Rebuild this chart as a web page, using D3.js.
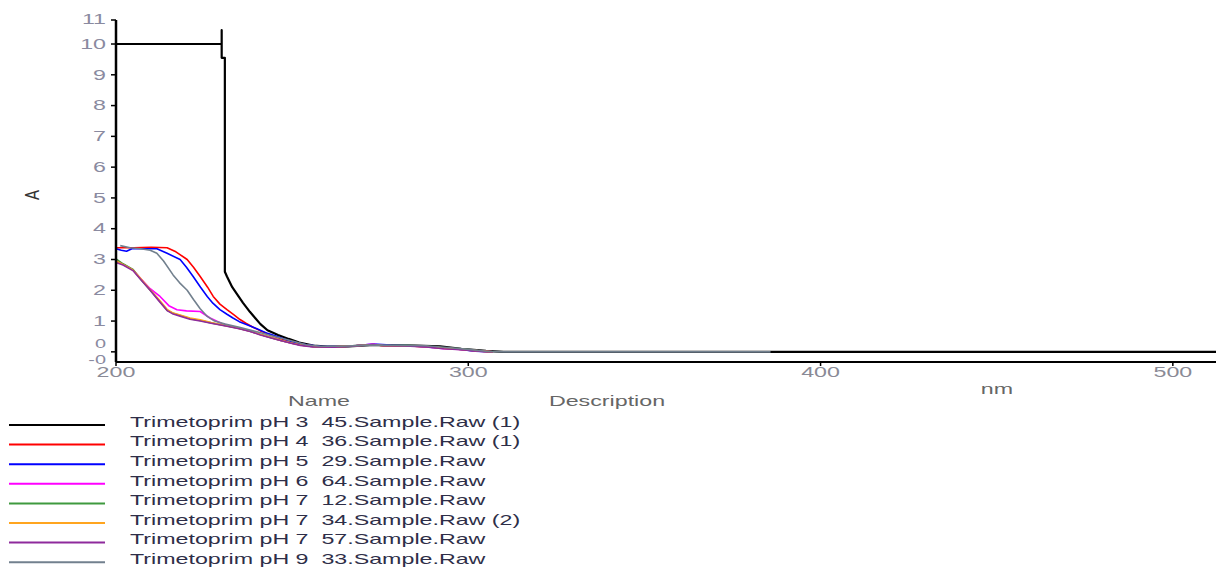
<!DOCTYPE html>
<html><head><meta charset="utf-8">
<script src="https://cdn.jsdelivr.net/npm/d3@7"></script>
<style>body{margin:0;background:#fff}svg{display:block;font-family:"Liberation Sans",Arial,sans-serif}text{white-space:pre}</style>
</head><body><svg id="c" width="1216" height="568"></svg>
<script>
// ---- data (wavelength nm, absorbance A) ----
const seriesNames = [
  "Trimetoprim pH 3  45.Sample.Raw (1)",
  "Trimetoprim pH 4  36.Sample.Raw (1)",
  "Trimetoprim pH 5  29.Sample.Raw",
  "Trimetoprim pH 6  64.Sample.Raw",
  "Trimetoprim pH 7  12.Sample.Raw",
  "Trimetoprim pH 7  34.Sample.Raw (2)",
  "Trimetoprim pH 7  57.Sample.Raw",
  "Trimetoprim pH 9  33.Sample.Raw"
];
const seriesColors = ["#000000","#ff0000","#0000ff","#ff00ff","#3f9a3f","#ffa51f","#8e2a9c","#72808e"];
const xTicks = [200,300,400,500];
const yTicks = [1,2,3,4,5,6,7,8,9,10];

const pH3 = [[200,10],[230.0,10],[230.0,10.45],[230.0,9.55],[230.9,9.55],[230.9,2.6],[231.5,2.45],[233,2.1],[234.5,1.85],[236,1.6],[238,1.3],[239.5,1.1],[241,0.9],[243,0.7],[246,0.55],[249,0.42],[252,0.3],[256,0.2],[260,0.17],[266,0.18],[272,0.22],[278,0.22],[285,0.2],[292,0.18],[298,0.1],[305,0.03],[310,0],[512.5,0]];
const pH4 = [[200,3.38],[205,3.38],[210,3.4],[214.5,3.38],[217,3.25],[220.2,3.0],[222,2.75],[223.9,2.45],[226,2.1],[227.6,1.8],[229.5,1.55],[231.5,1.37],[233.5,1.2],[235.2,1.05],[237,0.92],[238.9,0.8],[241,0.68],[243.8,0.55],[247,0.42],[250,0.32],[254,0.22],[258,0.17],[262,0.16],[268,0.2],[273,0.24],[276,0.2],[282,0.2],[290,0.15],[296,0.1],[302,0.03],[307,0]];
const pH5 = [[200,3.35],[201.5,3.3],[203,3.27],[204.5,3.35],[208,3.35],[211.6,3.35],[214.5,3.2],[218.2,3.0],[220,2.75],[221.9,2.45],[224,2.1],[225.9,1.8],[227.5,1.58],[229.5,1.37],[231.5,1.22],[233.2,1.1],[235,0.98],[237.2,0.88],[240,0.75],[243,0.6],[247,0.45],[250,0.33],[254,0.23],[258,0.18],[263,0.17],[268,0.2],[273,0.25],[278,0.22],[284,0.2],[290,0.14],[296,0.1],[302,0.02],[307,0]];
const pH6 = [[200,2.98],[202,2.85],[204.8,2.67],[207,2.38],[209.7,2.05],[212.5,1.8],[215,1.5],[217.3,1.37],[220,1.33],[223.9,1.31],[226.7,1.1],[230,0.92],[235,0.76],[238.1,0.67],[241,0.56],[243.8,0.47],[247,0.36],[250,0.28],[252.3,0.22],[256,0.17],[262,0.16],[268,0.2],[273,0.25],[276,0.2],[282,0.2],[288,0.17],[293,0.1],[298,0.08],[303,0.03],[307,0]];
const pH7a = [[200,3.02],[202,2.86],[204.8,2.68],[207,2.36],[209.7,2.0],[212,1.7],[214.5,1.35],[216,1.26],[218.2,1.18],[221,1.08],[223.9,1.02],[227,0.94],[231.5,0.84],[235,0.76],[238.1,0.67],[241,0.56],[243.8,0.47],[247,0.36],[250,0.28],[252.3,0.22],[256,0.17],[262,0.16],[268,0.2],[273,0.24],[276,0.2],[282,0.21],[288,0.18],[293,0.12],[298,0.1],[303,0.03],[307,0]];
const pH7b = [[200,2.95],[202,2.84],[204.8,2.66],[207,2.38],[209.7,2.02],[212,1.72],[214.5,1.38],[216,1.27],[218.2,1.2],[221,1.1],[223.9,1.04],[227,0.95],[231.5,0.84],[235,0.76],[238.1,0.67],[241,0.56],[243.8,0.47],[247,0.37],[250,0.28],[252.3,0.22],[256,0.17],[262,0.16],[268,0.2],[273,0.23],[276,0.2],[282,0.2],[288,0.17],[293,0.12],[298,0.08],[303,0.03],[307,0]];
const pH7c = [[200,2.9],[202,2.82],[204.8,2.64],[207,2.35],[209.7,2.0],[212,1.68],[214.5,1.34],[216,1.24],[218.2,1.16],[221,1.06],[223.9,1.0],[227,0.93],[231.5,0.83],[235,0.75],[238.1,0.66],[241,0.55],[243.8,0.46],[247,0.36],[250,0.27],[252.3,0.21],[256,0.16],[262,0.15],[268,0.19],[273,0.23],[276,0.2],[282,0.19],[288,0.16],[293,0.1],[298,0.07],[303,0.02],[307,0]];
const pH9 = [[201.2,3.45],[204,3.38],[207,3.35],[209.7,3.3],[211.6,3.2],[213.5,2.95],[216.2,2.5],[218,2.25],[220.2,2.0],[222,1.7],[223.9,1.4],[225.9,1.15],[228,1.0],[231,0.9],[235,0.8],[240,0.65],[245,0.5],[250,0.35],[254,0.23],[258,0.18],[264,0.18],[270,0.21],[276,0.22],[282,0.21],[288,0.2],[294,0.14],[300,0.08],[305,0.02],[310,0],[385.8,0]];
const seriesData = [pH3,pH4,pH5,pH6,pH7a,pH7b,pH7c,pH9];

// ---- layout ----
const svg = d3.select("#c");
const x = d3.scaleLinear().domain([200,512.25]).range([116,1216]);
const y = d3.scaleLinear().domain([-0.33,10.78]).range([362,20]);
const SX = 1.66; // horizontal text stretch of the reference

function stretchedText(g, tx, ty, str, opts) {
  return g.append("text")
    .attr("transform", `translate(${tx},${ty}) scale(${SX},1)`)
    .attr("text-anchor", opts.anchor || "start")
    .attr("dominant-baseline", "central")
    .attr("font-size", opts.size || 14)
    .attr("fill", opts.fill || "#333")
    .text(str);
}

// data lines
const line = d3.line().x(d => x(d[0])).y(d => y(d[1]));
seriesData.forEach((d, i) => {
  svg.append("path").datum(d)
    .attr("d", line)
    .attr("fill", "none")
    .attr("stroke", seriesColors[i])
    .attr("stroke-width", i === 0 ? 2.2 : 1.6)
    .attr("stroke-linejoin", "round");
});

// y axis
const ax = svg.append("g");
ax.append("line").attr("x1", 116).attr("x2", 116).attr("y1", y(10.78)).attr("y2", 362)
  .attr("stroke", "#000").attr("stroke-width", 2.5);
yTicks.forEach(t => {
  ax.append("line").attr("x1", 111).attr("x2", 116).attr("y1", y(t)).attr("y2", y(t))
    .attr("stroke", "#000").attr("stroke-width", 1.5);
  stretchedText(ax, 106, y(t), String(t), {anchor: "end", fill: "#8a8aa0", size: 14});
});
ax.append("line").attr("x1", 111).attr("x2", 116).attr("y1", y(0)).attr("y2", y(0))
  .attr("stroke", "#000").attr("stroke-width", 1.5);
ax.append("line").attr("x1", 111).attr("x2", 116).attr("y1", y(10.78)).attr("y2", y(10.78))
  .attr("stroke", "#000").attr("stroke-width", 1.5);
stretchedText(ax, 106, y(10.78) - 1, "11", {anchor: "end", fill: "#8a8aa0", size: 14});
stretchedText(ax, 106, 344, "0", {anchor: "end", fill: "#8a8aa0", size: 12});
stretchedText(ax, 106, 359.5, "-0", {anchor: "end", fill: "#8a8aa0", size: 12});

// x axis
ax.append("line").attr("x1", 116).attr("x2", 1216).attr("y1", 362).attr("y2", 362)
  .attr("stroke", "#000").attr("stroke-width", 2);
xTicks.forEach(t => {
  ax.append("line").attr("x1", x(t)).attr("x2", x(t)).attr("y1", 362).attr("y2", 366)
    .attr("stroke", "#000").attr("stroke-width", 1.5);
  stretchedText(ax, x(t), 372, String(t), {anchor: "middle", fill: "#8a8a96", size: 14});
});
stretchedText(ax, 997, 389, "nm", {anchor: "middle", fill: "#666", size: 14});
ax.append("text").attr("transform", "translate(32,195) rotate(-90) scale(1,1.4)")
  .attr("text-anchor", "middle").attr("dominant-baseline", "central")
  .attr("font-size", 15).attr("fill", "#333").text("A");

// legend
const lg = svg.append("g");
stretchedText(lg, 319, 401, "Name", {anchor: "middle", fill: "#666", size: 14});
stretchedText(lg, 607, 401, "Description", {anchor: "middle", fill: "#666", size: 14});
seriesNames.forEach((n, i) => {
  const ty = 422 + i * 19.6;
  lg.append("line").attr("x1", 9).attr("x2", 105).attr("y1", ty + 3).attr("y2", ty + 3)
    .attr("stroke", seriesColors[i]).attr("stroke-width", 2);
  stretchedText(lg, 130, ty, n, {fill: "#2e2e48", size: 14});
});
</script></body></html>
